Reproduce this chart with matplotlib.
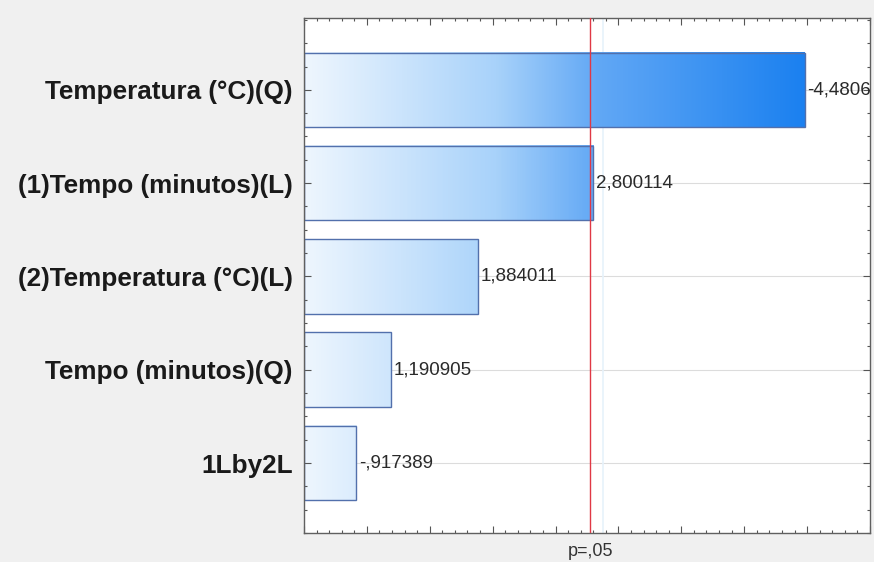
import numpy as np
import matplotlib.pyplot as plt
from matplotlib.colors import LinearSegmentedColormap, Normalize
from matplotlib.ticker import MultipleLocator

# efeitos padronizados (Pareto)
efeitos = ['Temperatura (°C)(Q)', '(1)Tempo (minutos)(L)', '(2)Temperatura (°C)(L)',
           'Tempo (minutos)(Q)', '1Lby2L']
valores = [4.4806, 2.800114, 1.884011, 1.190905, 0.917389]
rotulos = ['-4,4806', '2,800114', '1,884011', '1,190905', '-,917389']
t_crit = 2.776445  # p=,05

plt.rcParams['font.family'] = ['Liberation Sans', 'DejaVu Sans']

fig = plt.figure(figsize=(8.74, 5.62), dpi=100, facecolor='#f0f0f0')
ax = fig.add_axes([0.3478, 0.0516, 0.6476, 0.9164])
ax.set_facecolor('white')

x0, x1 = 0.5, 5.0
cmap = LinearSegmentedColormap.from_list(
    'azul', [(0.0, '#eef6fe'), (0.38, '#a8d2fa'), (0.58, '#62a8f5'), (1.0, '#1a80f0')])
norm = Normalize(vmin=x0, vmax=4.5)
h = 0.8
ypos = np.arange(len(efeitos))

# linhas de grade horizontais
for y in ypos:
    ax.axhline(y, color='#dcdcdc', lw=0.8, zorder=0)

for y, v, r in zip(ypos, valores, rotulos):
    grad = np.linspace(x0, v, 256).reshape(1, -1)
    ax.imshow(grad, cmap=cmap, norm=norm, aspect='auto',
              extent=(x0, v, y + h / 2, y - h / 2), zorder=1, interpolation='bilinear')
    ax.text(v + 0.02, y, r, va='center', ha='left', fontsize=13.5, color='#2a2a2a', zorder=4)

ax.barh(ypos, np.array(valores) - x0, left=x0, height=h, fill=False,
        edgecolor='#5270ac', lw=1.0, zorder=2)

ax.axvline(t_crit + 0.1, color='#e6f2fb', lw=1.2, zorder=0.5)
ax.axvline(t_crit, color='#e03845', lw=1.0, zorder=3)

ax.set_ylim(len(efeitos) - 0.25, -0.77)
ax.set_xlim(x0, x1)

ax.set_yticks(ypos)
ax.set_yticklabels(efeitos, fontsize=18.8, fontweight='bold', color='#1a1a1a')
ax.yaxis.set_minor_locator(MultipleLocator(0.25))
ax.xaxis.set_major_locator(MultipleLocator(0.5))
ax.xaxis.set_minor_locator(MultipleLocator(0.1))
ax.set_xticklabels([])
ax.tick_params(axis='both', which='both', direction='in', top=True, right=True,
               color='#555555', width=0.8)
ax.tick_params(which='major', length=5)
ax.tick_params(which='minor', length=2.5)
ax.tick_params(axis='y', which='major', pad=8)
for s in ax.spines.values():
    s.set_color('#606060')
    s.set_linewidth(1.0)

ax.text(t_crit, -0.02, 'p=,05', transform=ax.get_xaxis_transform(), ha='center', va='top',
        fontsize=13, color='#333333')

fig.savefig('out.png', dpi=100, facecolor=fig.get_facecolor())
